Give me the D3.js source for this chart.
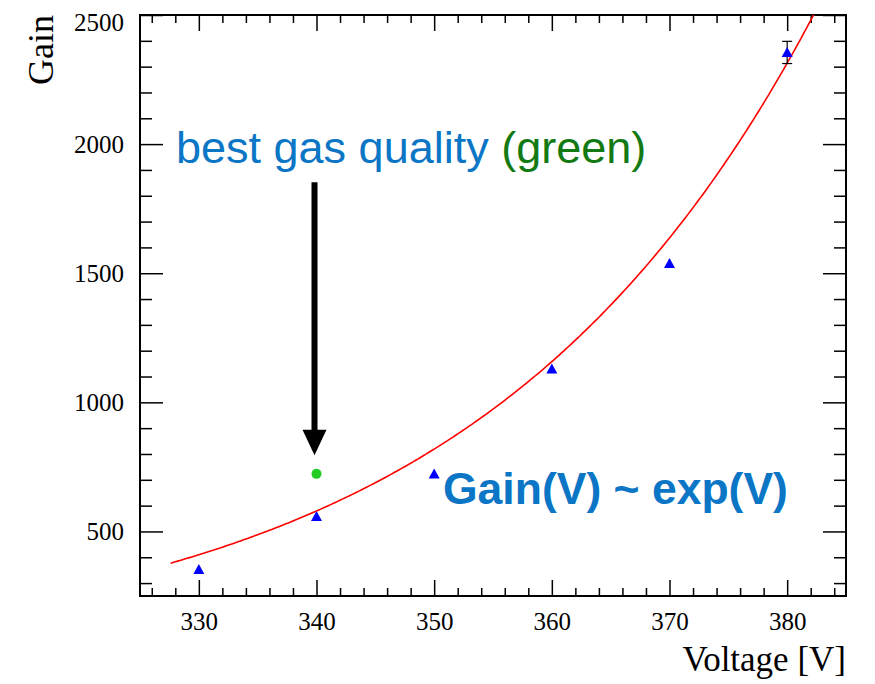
<!DOCTYPE html>
<html>
<head>
<meta charset="utf-8">
<script src="https://cdn.jsdelivr.net/npm/d3@7"></script>
<style>
  html, body { margin: 0; padding: 0; background: #fff; }
  svg { display: block; }
</style>
</head>
<body>
<svg id="chart" width="875" height="684"></svg>
<script>
// Measured gain versus drift voltage
const voltages = [330, 340, 350, 360, 370, 380];
const gains    = [353, 558, 722, 1129, 1538, 2355];
const gainErrs = [6, 8, 10, 14, 18, 43];

// Best-gas-quality run
const bestVoltage = [340];
const bestGain    = [723];

// Exponential fit: Gain(V) = exp(p0 + p1*V)
const fitParams = { p0: -5.409, p1: 0.03462 };
const fitRange  = [327.6, 385];

// Axis ticks
const xMajor = [330, 340, 350, 360, 370, 380];
const xMinor = d3.range(326, 385, 2).filter(v => v % 10 !== 0);
const yMajor = [500, 1000, 1500, 2000, 2500];
const yMinor = d3.range(300, 2500, 100).filter(v => v % 500 !== 0);

// Arrow annotation (in data units)
const arrowV = 340;
const arrowGain = { start: 1852, headBase: 894, tip: 795 };

const svg = d3.select("#chart");
const m = { left: 140, right: 846, top: 15, bottom: 596 };

const x = d3.scaleLinear().domain([325, 385]).range([m.left, m.right]);
const y = d3.scaleLinear().domain([250, 2500]).range([m.bottom, m.top]);

const serif = "'Liberation Serif', 'Times New Roman', serif";
const sans = "'Liberation Sans', Arial, Helvetica, sans-serif";

// clip for the fit curve
svg.append("defs").append("clipPath").attr("id", "plotClip")
  .append("rect").attr("x", m.left).attr("y", m.top)
  .attr("width", m.right - m.left).attr("height", m.bottom - m.top);

function styleAxis(g) {
  g.select(".domain").remove();
  g.selectAll(".tick line").attr("stroke", "#000").attr("stroke-width", 1.5);
  g.selectAll(".tick text").attr("font-family", serif).attr("font-size", 25).attr("fill", "#000");
}

// bottom axis
svg.append("g").attr("transform", `translate(0,${m.bottom})`)
  .call(d3.axisBottom(x).tickValues(xMajor).tickSize(-16).tickPadding(10).tickFormat(d3.format("d")))
  .call(styleAxis)
  .selectAll(".tick text").attr("dy", "0.95em");
svg.append("g").attr("transform", `translate(0,${m.bottom})`)
  .call(d3.axisBottom(x).tickValues(xMinor).tickSize(-8).tickFormat(""))
  .call(styleAxis);

// top axis (ticks only)
svg.append("g").attr("transform", `translate(0,${m.top})`)
  .call(d3.axisTop(x).tickValues(xMajor).tickSize(-16).tickFormat(""))
  .call(styleAxis);
svg.append("g").attr("transform", `translate(0,${m.top})`)
  .call(d3.axisTop(x).tickValues(xMinor).tickSize(-8).tickFormat(""))
  .call(styleAxis);

// left axis
const yAxisG = svg.append("g").attr("transform", `translate(${m.left},0)`)
  .call(d3.axisLeft(y).tickValues(yMajor).tickSize(-23).tickPadding(16).tickFormat(d3.format("d")))
  .call(styleAxis);
yAxisG.selectAll(".tick text").filter(d => d === 2500).attr("dy", "0.6em");
svg.append("g").attr("transform", `translate(${m.left},0)`)
  .call(d3.axisLeft(y).tickValues(yMinor).tickSize(-12).tickFormat(""))
  .call(styleAxis);

// right axis (ticks only)
svg.append("g").attr("transform", `translate(${m.right},0)`)
  .call(d3.axisRight(y).tickValues(yMajor).tickSize(-23).tickFormat(""))
  .call(styleAxis);
svg.append("g").attr("transform", `translate(${m.right},0)`)
  .call(d3.axisRight(y).tickValues(yMinor).tickSize(-12).tickFormat(""))
  .call(styleAxis);

// frame
svg.append("rect")
  .attr("x", m.left).attr("y", m.top)
  .attr("width", m.right - m.left).attr("height", m.bottom - m.top)
  .attr("fill", "none").attr("stroke", "#000").attr("stroke-width", 2);

// axis titles
svg.append("text")
  .attr("x", m.right).attr("y", 671)
  .attr("text-anchor", "end")
  .attr("font-family", serif).attr("font-size", 35)
  .text("Voltage [V]");
svg.append("text")
  .attr("transform", `translate(53,${m.top}) rotate(-90)`)
  .attr("text-anchor", "end")
  .attr("font-family", serif).attr("font-size", 36)
  .text("Gain");

// fit curve
const fitPts = d3.range(fitRange[0], fitRange[1] + 0.001, 0.2)
  .map(v => [v, Math.exp(fitParams.p0 + fitParams.p1 * v)]);
svg.append("path")
  .datum(fitPts)
  .attr("clip-path", "url(#plotClip)")
  .attr("fill", "none").attr("stroke", "#ff0000").attr("stroke-width", 1.6)
  .attr("d", d3.line().x(d => x(d[0])).y(d => y(d[1])));

// measurement points
const pts = voltages.map((v, i) => ({ v, g: gains[i], e: gainErrs[i] }));
const markerHalf = 5;

// error bars, drawn only where they reach beyond the marker
const errG = svg.append("g").attr("stroke", "#000").attr("stroke-width", 1.2);
pts.forEach(p => {
  const yt = y(p.g + p.e), yb = y(p.g - p.e), cx = x(p.v);
  if (y(p.g) - yt <= markerHalf + 1) return;
  errG.append("line").attr("x1", cx).attr("x2", cx).attr("y1", yt).attr("y2", yb);
  errG.append("line").attr("x1", cx - 5).attr("x2", cx + 5).attr("y1", yt).attr("y2", yt);
  errG.append("line").attr("x1", cx - 5).attr("x2", cx + 5).attr("y1", yb).attr("y2", yb);
});

svg.append("g").selectAll("path")
  .data(pts).join("path")
  .attr("fill", "#0000ff")
  .attr("d", d => {
    const cx = x(d.v), cy = y(d.g);
    return `M${cx},${cy - 5.5}L${cx + 5.5},${cy + 4.5}L${cx - 5.5},${cy + 4.5}Z`;
  });

// best gas quality point
svg.append("g").selectAll("circle")
  .data(bestVoltage.map((v, i) => ({ v, g: bestGain[i] })))
  .join("circle")
  .attr("cx", d => x(d.v)).attr("cy", d => y(d.g)).attr("r", 5)
  .attr("fill", "#22cc22");

// arrow pointing at the best point
const ax = x(arrowV) - 2;
svg.append("line")
  .attr("x1", ax).attr("x2", ax)
  .attr("y1", y(arrowGain.start)).attr("y2", y(arrowGain.headBase) + 1)
  .attr("stroke", "#000").attr("stroke-width", 6);
svg.append("path")
  .attr("fill", "#000")
  .attr("d", `M${ax - 12},${y(arrowGain.headBase)}L${ax + 12},${y(arrowGain.headBase)}L${ax},${y(arrowGain.tip)}Z`);

// annotations
const t1 = svg.append("text")
  .attr("x", 176).attr("y", 163)
  .attr("font-family", sans).attr("font-size", 45);
t1.append("tspan").attr("fill", "#0b76c5").text("best gas quality ");
t1.append("tspan").attr("fill", "#137a13").text("(green)");

svg.append("text")
  .attr("x", 443).attr("y", 504)
  .attr("font-family", sans).attr("font-size", 44.5).attr("font-weight", "bold")
  .attr("fill", "#0b76c5")
  .text("Gain(V) ~ exp(V)");
</script>
</body>
</html>
